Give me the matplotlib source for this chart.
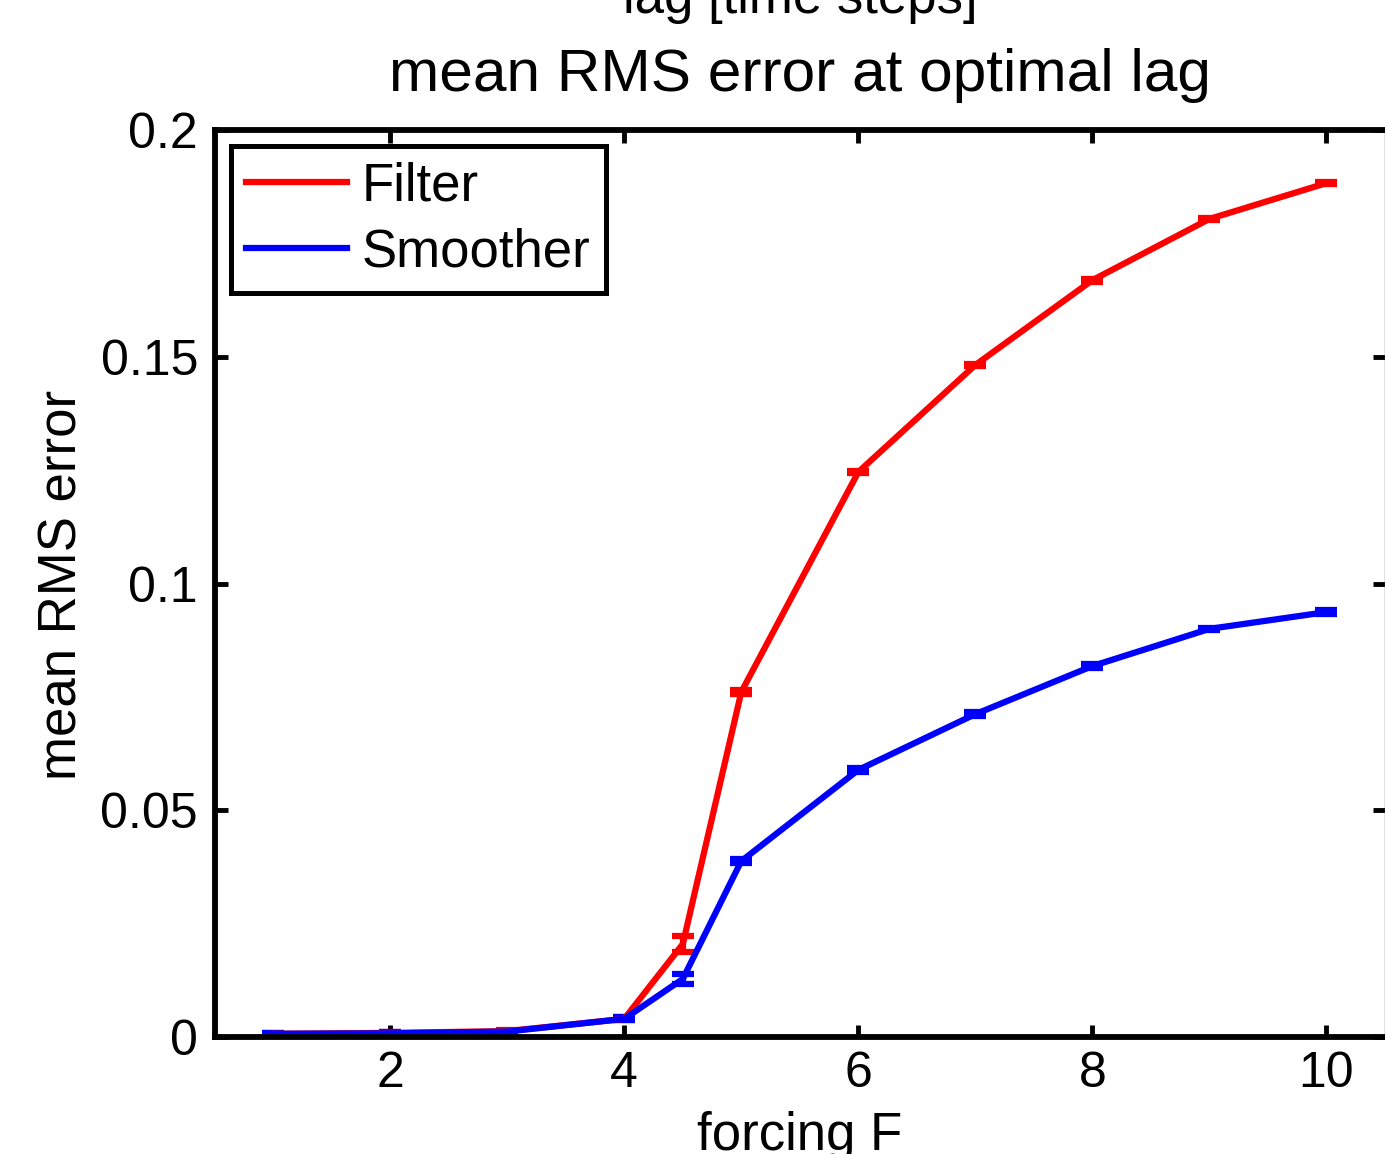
import numpy as np
import matplotlib
matplotlib.use("Agg")
from matplotlib import pyplot as plt

# forcing values and mean RMS error
forcing = [1, 2, 3, 4, 4.5, 5, 6, 7, 8, 9, 10]
filter_err = [0.0007, 0.0009, 0.0013, 0.0040, 0.0205, 0.0761, 0.1246, 0.1482, 0.1669, 0.1804, 0.1883]
filter_sd = [0.0002, 0.0002, 0.0002, 0.0003, 0.0018, 0.0004, 0.0003, 0.0003, 0.0003, 0.0003, 0.0003]
smoother_err = [0.0007, 0.0008, 0.0012, 0.0040, 0.0128, 0.0388, 0.0589, 0.0712, 0.0818, 0.0900, 0.0937]
smoother_sd = [0.0002, 0.0002, 0.0002, 0.0003, 0.0011, 0.0005, 0.0004, 0.0004, 0.0004, 0.0003, 0.0004]
yticks = [0, 0.05, 0.1, 0.15, 0.2]
ytick_labels = ["0", "0.05", "0.1", "0.15", "0.2"]
xticks = [2, 4, 6, 8, 10]

plt.rcParams['font.family'] = ['Liberation Sans', 'DejaVu Sans']

fig = plt.figure(figsize=(13.85, 11.54), dpi=100)
ax = fig.add_axes([0.155, 0.1014, 0.845, 0.7859])

lw = 4.5
ax.errorbar(forcing, filter_err, yerr=filter_sd, color=(1, 0, 0), lw=lw,
            elinewidth=lw, capsize=8, capthick=lw)
ax.errorbar(forcing, smoother_err, yerr=smoother_sd, color=(0, 0, 1), lw=lw,
            elinewidth=lw, capsize=8, capthick=lw)
h1, = ax.plot([], [], color=(1, 0, 0), lw=lw, label="Filter")
h2, = ax.plot([], [], color=(0, 0, 1), lw=lw, label="Smoother")

ax.set_xlim(0.5, 10.5)
ax.set_ylim(0, 0.2)
ax.set_xticks(xticks)
ax.set_yticks(yticks)
ax.set_yticklabels(ytick_labels)
ax.tick_params(direction='in', length=9, width=3.5, top=True, right=True,
               labelsize=36)
ax.tick_params(axis='x', pad=10)
ax.tick_params(axis='y', pad=12)
for s in ['left', 'bottom', 'top']:
    ax.spines[s].set_linewidth(4.2)
ax.spines['right'].set_linewidth(1.0)
ax.spines['right'].set_color('0.4')

ax.set_title("mean RMS error at optimal lag", fontsize=43.5, pad=28)
ax.set_ylabel("mean RMS error", fontsize=38)
ax.yaxis.set_label_coords(-0.1085, 0.498)
ax.yaxis.label.set_va('bottom')
ax.set_xlabel("forcing F", fontsize=38)
ax.xaxis.set_label_coords(0.5, -0.1246)
ax.xaxis.label.set_va('baseline')

fig.text(0.578, 1 - 13 / 1154, "lag [time steps]", fontsize=38,
         ha='center', va='baseline')

leg = ax.legend(handles=[h1, h2], loc='upper left', fontsize=38,
                frameon=True, fancybox=False, framealpha=1, edgecolor='black',
                handlelength=1.9, handletextpad=0.28, labelspacing=0.3,
                borderpad=0.3, borderaxespad=0.3)
leg.get_frame().set_linewidth(3.6)

fig.savefig("out.png", dpi=100)
